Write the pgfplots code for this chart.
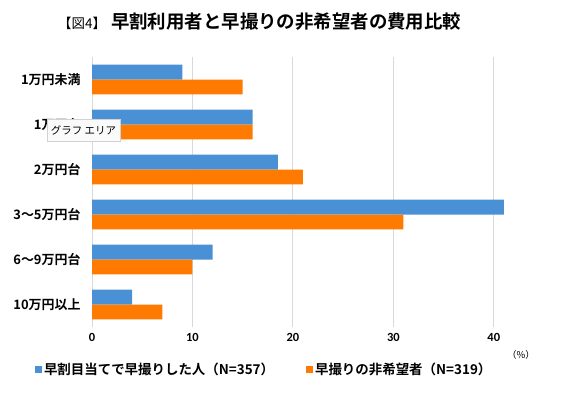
\documentclass[border=0pt]{standalone}
\usepackage{fontspec}
\setmainfont{Noto Sans CJK JP}[BoldFont={Noto Sans CJK JP Bold}]
\newfontfamily\carlito{Carlito}
\usepackage{pgfplots}
\pgfplotsset{compat=1.18}
\usetikzlibrary{shadows}
\definecolor{cblue}{RGB}{74,144,212}
\definecolor{corange}{RGB}{255,122,0}
\definecolor{gridgray}{RGB}{217,217,217}
\begin{document}
\begin{tikzpicture}
\path[use as bounding box] (0,0) rectangle (562bp,393bp);
\begin{axis}[
  at={(92bp,66bp)}, anchor=south west,
  scale only axis, width=452bp, height=270bp,
  xbar, xmin=0, xmax=45, ymin=-0.5, ymax=5.5, y dir=reverse,
  ytick={0,1,2,3,4,5},
  yticklabels={1万円未満,1万円台,2万円台,3〜5万円台,6〜9万円台,10万円以上},
  xtick={0,10,20,30,40},
  xmajorgrids, grid style={gridgray, line width=0.8pt},
  axis line style={draw=none}, major tick length=0pt,
  bar width=0.33,
  /pgf/number format/assume math mode=true,
  xticklabel style={font=\carlito\bfseries\fontsize{12.5}{14}\selectfont, yshift=-3bp},
  yticklabel style={font=\bfseries\fontsize{13}{15}\selectfont, xshift=-8bp},
  legend style={at={(0.381,-0.159)}, anchor=center, draw=none, legend columns=2,
    font=\bfseries\fontsize{13.5}{15}\selectfont,
    /tikz/every even column/.append style={column sep=30bp}},
  legend image code/.code={\fill[#1] (0bp,-3.5bp) rectangle (7bp,3.5bp);},
]
\addplot[fill=cblue, draw=none, bar shift=-0.165] coordinates {(9,0) (16,1) (18.5,2) (41,3) (12,4) (4,5)};
\addplot[fill=corange, draw=none, bar shift=0.165] coordinates {(15,0) (16,1) (21,2) (31,3) (10,4) (7,5)};
\legend{早割目当てで早撮りした人（N=357）,早撮りの非希望者（N=319）}
\end{axis}
\node[anchor=west, inner sep=0pt] at (58bp,371bp) {{\fontsize{13.5}{16}\selectfont 【図4】}\kern5bp{\fontsize{18.5}{20}\selectfont\bfseries 早割利用者と早撮りの非希望者の費用比較}};
\node[font=\fontsize{9.5}{11}\selectfont] at (521bp,38bp) {（\%）};
\node[font=\fontsize{10.5}{12}\selectfont, fill={rgb,255:red,250;green,250;blue,250}, draw={rgb,255:red,210;green,210;blue,210}, line width=0.4pt, drop shadow={opacity=0.25, shadow xshift=1bp, shadow yshift=-1.5bp}, inner xsep=4bp, inner ysep=3bp, minimum height=22bp] at (83.5bp,263bp) {グラフ エリア};
\end{tikzpicture}
\end{document}
